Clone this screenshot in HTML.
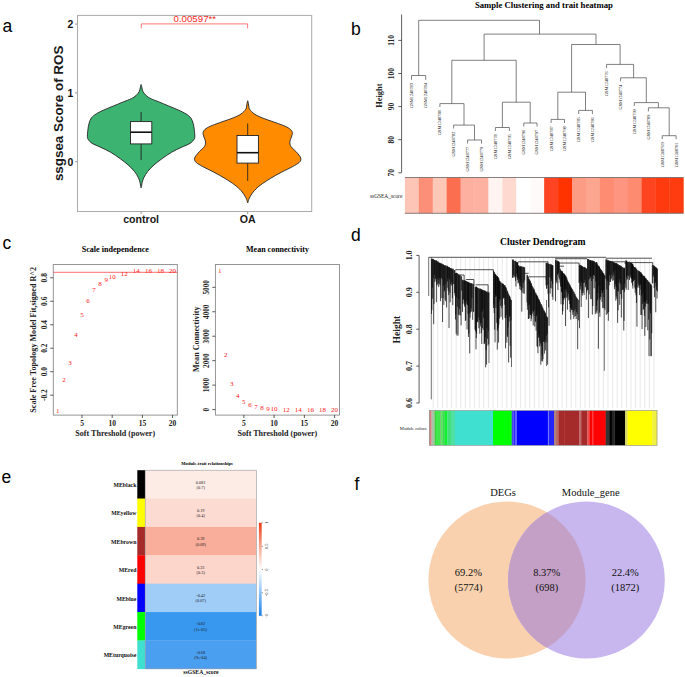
<!DOCTYPE html>
<html><head><meta charset="utf-8"><style>
html,body{margin:0;padding:0;background:#fff;width:685px;height:677px;overflow:hidden;}
svg{display:block;}
</style></head><body>
<svg width="685" height="677" viewBox="0 0 685 677">
<rect width="685" height="677" fill="#fff"/>
<text x="2.5" y="31.7" font-family='"Liberation Sans", sans-serif' font-size="17.5" font-weight="normal" text-anchor="start" fill="#000">a</text>
<text x="351" y="35" font-family='"Liberation Sans", sans-serif' font-size="17.5" font-weight="normal" text-anchor="start" fill="#000">b</text>
<text x="2.5" y="248.8" font-family='"Liberation Sans", sans-serif' font-size="17.5" font-weight="normal" text-anchor="start" fill="#000">c</text>
<text x="351" y="240.8" font-family='"Liberation Sans", sans-serif' font-size="17.5" font-weight="normal" text-anchor="start" fill="#000">d</text>
<text x="1.5" y="483.3" font-family='"Liberation Sans", sans-serif' font-size="17.5" font-weight="normal" text-anchor="start" fill="#000">e</text>
<text x="354.5" y="489.6" font-family='"Liberation Sans", sans-serif' font-size="17.5" font-weight="normal" text-anchor="start" fill="#000">f</text>
<rect x="77.5" y="15.4" width="234.2" height="196.1" fill="none" stroke="#ababab" stroke-width="1"/>
<line x1="75" y1="161.7" x2="77.5" y2="161.7" stroke="#999" stroke-width="1"/>
<text x="73.4" y="165.5" font-family='"Liberation Sans", sans-serif' font-size="10.4" font-weight="bold" text-anchor="end" fill="#111">0</text>
<line x1="75" y1="92.89999999999999" x2="77.5" y2="92.89999999999999" stroke="#999" stroke-width="1"/>
<text x="73.4" y="96.69999999999999" font-family='"Liberation Sans", sans-serif' font-size="10.4" font-weight="bold" text-anchor="end" fill="#111">1</text>
<line x1="75" y1="24.099999999999994" x2="77.5" y2="24.099999999999994" stroke="#999" stroke-width="1"/>
<text x="73.4" y="27.899999999999995" font-family='"Liberation Sans", sans-serif' font-size="10.4" font-weight="bold" text-anchor="end" fill="#111">2</text>
<line x1="141.1" y1="211.5" x2="141.1" y2="214" stroke="#999" stroke-width="1"/>
<text x="141.1" y="223.2" font-family='"Liberation Sans", sans-serif' font-size="10.6" font-weight="bold" text-anchor="middle" fill="#1a1a1a">control</text>
<line x1="247.7" y1="211.5" x2="247.7" y2="214" stroke="#999" stroke-width="1"/>
<text x="247.7" y="223.2" font-family='"Liberation Sans", sans-serif' font-size="10.6" font-weight="bold" text-anchor="middle" fill="#1a1a1a">OA</text>
<text x="63.2" y="113.4" font-family='"Liberation Sans", sans-serif' font-size="13.4" font-weight="bold" text-anchor="middle" fill="#1a1a1a" transform="rotate(-90 63.2 113.4)">ssgsea Score of ROS</text>
<path d="M141.30,84.90 C141.48,85.42 141.72,86.88 142.00,88.00 C142.28,89.12 142.30,90.33 143.00,91.60 C143.70,92.87 144.88,94.42 146.20,95.60 C147.52,96.78 148.78,97.65 150.90,98.70 C153.02,99.75 155.97,100.70 158.90,101.90 C161.83,103.10 165.30,104.57 168.50,105.90 C171.70,107.23 175.18,108.57 178.10,109.90 C181.02,111.23 183.88,112.57 186.00,113.90 C188.12,115.23 189.60,116.30 190.80,117.90 C192.00,119.50 192.62,121.52 193.20,123.50 C193.78,125.48 194.03,127.68 194.30,129.80 C194.57,131.92 194.85,134.60 194.80,136.20 C194.75,137.80 194.80,138.20 194.00,139.40 C193.20,140.60 192.13,142.07 190.00,143.40 C187.87,144.73 184.25,145.93 181.20,147.40 C178.15,148.87 174.88,150.33 171.70,152.20 C168.52,154.07 165.03,156.48 162.10,158.60 C159.17,160.72 156.48,162.78 154.10,164.90 C151.72,167.02 149.52,169.17 147.80,171.30 C146.08,173.43 144.73,175.83 143.80,177.70 C142.87,179.57 142.62,180.90 142.20,182.50 C141.78,184.10 141.52,186.50 141.30,187.30 C141.08,188.10 141.12,188.10 140.90,187.30 C140.68,186.50 140.42,184.10 140.00,182.50 C139.58,180.90 139.33,179.57 138.40,177.70 C137.47,175.83 136.12,173.43 134.40,171.30 C132.68,169.17 130.48,167.02 128.10,164.90 C125.72,162.78 123.03,160.72 120.10,158.60 C117.17,156.48 113.68,154.07 110.50,152.20 C107.32,150.33 104.05,148.87 101.00,147.40 C97.95,145.93 94.33,144.73 92.20,143.40 C90.07,142.07 89.00,140.60 88.20,139.40 C87.40,138.20 87.45,137.80 87.40,136.20 C87.35,134.60 87.63,131.92 87.90,129.80 C88.17,127.68 88.42,125.48 89.00,123.50 C89.58,121.52 90.20,119.50 91.40,117.90 C92.60,116.30 94.08,115.23 96.20,113.90 C98.32,112.57 101.18,111.23 104.10,109.90 C107.02,108.57 110.50,107.23 113.70,105.90 C116.90,104.57 120.37,103.10 123.30,101.90 C126.23,100.70 129.18,99.75 131.30,98.70 C133.42,97.65 134.68,96.78 136.00,95.60 C137.32,94.42 138.50,92.87 139.20,91.60 C139.90,90.33 139.92,89.12 140.20,88.00 C140.48,86.88 140.72,85.42 140.90,84.90 C141.08,84.38 141.12,84.38 141.30,84.90Z" fill="#3cb371" stroke="#222" stroke-width="0.9"/>
<path d="M247.90,101.20 C248.08,101.83 248.32,103.67 248.60,105.00 C248.88,106.33 248.63,107.70 249.60,109.20 C250.57,110.70 252.28,112.55 254.40,114.00 C256.52,115.45 259.12,116.58 262.30,117.90 C265.48,119.22 270.03,120.65 273.50,121.90 C276.97,123.15 280.45,124.28 283.10,125.40 C285.75,126.52 287.87,127.45 289.40,128.60 C290.93,129.75 291.97,130.88 292.30,132.30 C292.63,133.72 291.82,135.50 291.40,137.10 C290.98,138.70 289.87,140.32 289.80,141.90 C289.73,143.48 290.00,145.02 291.00,146.60 C292.00,148.18 294.33,149.80 295.80,151.40 C297.27,153.00 298.95,154.87 299.80,156.20 C300.65,157.53 301.03,158.33 300.90,159.40 C300.77,160.47 300.38,161.40 299.00,162.60 C297.62,163.80 295.52,165.00 292.60,166.60 C289.68,168.20 285.22,170.22 281.50,172.20 C277.78,174.18 273.77,176.38 270.30,178.50 C266.83,180.62 263.35,182.90 260.70,184.90 C258.05,186.90 256.12,188.63 254.40,190.50 C252.68,192.37 251.35,194.60 250.40,196.10 C249.45,197.60 249.12,198.43 248.70,199.50 C248.28,200.57 248.10,202.00 247.90,202.50 C247.70,203.00 247.70,203.00 247.50,202.50 C247.30,202.00 247.12,200.57 246.70,199.50 C246.28,198.43 245.95,197.60 245.00,196.10 C244.05,194.60 242.72,192.37 241.00,190.50 C239.28,188.63 237.35,186.90 234.70,184.90 C232.05,182.90 228.57,180.62 225.10,178.50 C221.63,176.38 217.62,174.18 213.90,172.20 C210.18,170.22 205.72,168.20 202.80,166.60 C199.88,165.00 197.78,163.80 196.40,162.60 C195.02,161.40 194.63,160.47 194.50,159.40 C194.37,158.33 194.75,157.53 195.60,156.20 C196.45,154.87 198.13,153.00 199.60,151.40 C201.07,149.80 203.40,148.18 204.40,146.60 C205.40,145.02 205.67,143.48 205.60,141.90 C205.53,140.32 204.42,138.70 204.00,137.10 C203.58,135.50 202.77,133.72 203.10,132.30 C203.43,130.88 204.47,129.75 206.00,128.60 C207.53,127.45 209.65,126.52 212.30,125.40 C214.95,124.28 218.43,123.15 221.90,121.90 C225.37,120.65 229.92,119.22 233.10,117.90 C236.28,116.58 238.88,115.45 241.00,114.00 C243.12,112.55 244.83,110.70 245.80,109.20 C246.77,107.70 246.52,106.33 246.80,105.00 C247.08,103.67 247.32,101.83 247.50,101.20 C247.68,100.57 247.72,100.57 247.90,101.20Z" fill="#ff8c00" stroke="#222" stroke-width="0.9"/>
<line x1="141.1" y1="112" x2="141.1" y2="121.6" stroke="#222" stroke-width="0.9"/>
<line x1="141.1" y1="143.9" x2="141.1" y2="160.1" stroke="#222" stroke-width="0.9"/>
<rect x="130.5" y="121.6" width="21.30000000000001" height="22.30000000000001" fill="#fff" stroke="#222" stroke-width="0.9"/>
<line x1="130.5" y1="132.2" x2="151.8" y2="132.2" stroke="#111" stroke-width="1.6"/>
<line x1="247.7" y1="123.5" x2="247.7" y2="135.5" stroke="#222" stroke-width="0.9"/>
<line x1="247.7" y1="163.1" x2="247.7" y2="180.9" stroke="#222" stroke-width="0.9"/>
<rect x="237" y="135.5" width="21.399999999999977" height="27.599999999999994" fill="#fff" stroke="#222" stroke-width="0.9"/>
<line x1="237" y1="152.7" x2="258.4" y2="152.7" stroke="#111" stroke-width="1.6"/>
<path d="M141.3,28.4 V23.9 H247.6 V28.4" fill="none" stroke="#ff6b6b" stroke-width="0.9"/>
<text x="194.8" y="22" font-family='"Liberation Sans", sans-serif' font-size="9.7" font-weight="normal" text-anchor="middle" fill="#f52828">0.00597**</text>
<text x="543.9" y="8.3" font-family='"Liberation Serif", serif' font-size="8.7" font-weight="bold" text-anchor="middle" fill="#000">Sample Clustering and trait heatmap</text>
<line x1="401.6" y1="14.5" x2="401.6" y2="172.6" stroke="#333" stroke-width="0.8"/>
<line x1="398.3" y1="172.8" x2="401.6" y2="172.8" stroke="#333" stroke-width="0.8"/>
<text x="393.8" y="172.8" font-family='"Liberation Serif", serif' font-size="7.5" font-weight="bold" text-anchor="middle" fill="#222" transform="rotate(-90 393.8 172.8)">70</text>
<line x1="398.3" y1="139.7" x2="401.6" y2="139.7" stroke="#333" stroke-width="0.8"/>
<text x="393.8" y="139.7" font-family='"Liberation Serif", serif' font-size="7.5" font-weight="bold" text-anchor="middle" fill="#222" transform="rotate(-90 393.8 139.7)">80</text>
<line x1="398.3" y1="106.6" x2="401.6" y2="106.6" stroke="#333" stroke-width="0.8"/>
<text x="393.8" y="106.6" font-family='"Liberation Serif", serif' font-size="7.5" font-weight="bold" text-anchor="middle" fill="#222" transform="rotate(-90 393.8 106.6)">90</text>
<line x1="398.3" y1="73.5" x2="401.6" y2="73.5" stroke="#333" stroke-width="0.8"/>
<text x="393.8" y="73.5" font-family='"Liberation Serif", serif' font-size="7.5" font-weight="bold" text-anchor="middle" fill="#222" transform="rotate(-90 393.8 73.5)">100</text>
<line x1="398.3" y1="40.4" x2="401.6" y2="40.4" stroke="#333" stroke-width="0.8"/>
<text x="393.8" y="40.4" font-family='"Liberation Serif", serif' font-size="7.5" font-weight="bold" text-anchor="middle" fill="#222" transform="rotate(-90 393.8 40.4)">110</text>
<text x="382" y="95.6" font-family='"Liberation Serif", serif' font-size="8.4" font-weight="bold" text-anchor="middle" fill="#222" transform="rotate(-90 382 95.6)">Height</text>
<path d="M411.5,79.8 V75.5 H425.7 V79.8 M467.6,143.5 V140 H481.5 V143.5 M453.6,128.5 V125.1 H474.5 V140 M439.9,107 V103.6 H464 V125.1 M495.4,131 V127.5 H509.4 V131 M523.8,126.5 V123 H537 V126.5 M502.4,127.5 V102.2 H530.2 V123 M451.8,103.6 V60.3 H516.2 V102.2 M551.1,123 V119.4 H564.5 V123 M578.7,114 V110.4 H592.4 V114 M557.8,119.4 V92.2 H585.5 V110.4 M662.2,139.2 V135.7 H676.1 V139.2 M648.4,111.4 V107.8 H669.2 V135.7 M634.3,106 V102.6 H658.4 V107.8 M620.6,81.4 V77.8 H646.3 V102.6 M606.6,68 V64.4 H633.6 V77.8 M571.6,92.2 V44.5 H620.1 V64.4 M484.1,60.3 V34.1 H596 V44.5 M418.7,75.5 V20.3 H539.5 V34.1" fill="none" stroke="#555" stroke-width="0.75"/>
<text x="413.0" y="83.0" font-family='"Liberation Serif", serif' font-size="4.4" font-weight="normal" text-anchor="end" fill="#111" transform="rotate(-90 413.0 83.0)">GSM1248783</text>
<text x="427.2" y="83.0" font-family='"Liberation Serif", serif' font-size="4.4" font-weight="normal" text-anchor="end" fill="#111" transform="rotate(-90 427.2 83.0)">GSM1248784</text>
<text x="441.4" y="110.2" font-family='"Liberation Serif", serif' font-size="4.4" font-weight="normal" text-anchor="end" fill="#111" transform="rotate(-90 441.4 110.2)">GSM1248788</text>
<text x="455.1" y="131.7" font-family='"Liberation Serif", serif' font-size="4.4" font-weight="normal" text-anchor="end" fill="#111" transform="rotate(-90 455.1 131.7)">GSM1248782</text>
<text x="469.1" y="146.7" font-family='"Liberation Serif", serif' font-size="4.4" font-weight="normal" text-anchor="end" fill="#111" transform="rotate(-90 469.1 146.7)">GSM1248777</text>
<text x="483.0" y="146.7" font-family='"Liberation Serif", serif' font-size="4.4" font-weight="normal" text-anchor="end" fill="#111" transform="rotate(-90 483.0 146.7)">GSM1248779</text>
<text x="496.9" y="134.2" font-family='"Liberation Serif", serif' font-size="4.4" font-weight="normal" text-anchor="end" fill="#111" transform="rotate(-90 496.9 134.2)">GSM1248778</text>
<text x="510.9" y="134.2" font-family='"Liberation Serif", serif' font-size="4.4" font-weight="normal" text-anchor="end" fill="#111" transform="rotate(-90 510.9 134.2)">GSM1248795</text>
<text x="525.3" y="129.7" font-family='"Liberation Serif", serif' font-size="4.4" font-weight="normal" text-anchor="end" fill="#111" transform="rotate(-90 525.3 129.7)">GSM1248796</text>
<text x="538.5" y="129.7" font-family='"Liberation Serif", serif' font-size="4.4" font-weight="normal" text-anchor="end" fill="#111" transform="rotate(-90 538.5 129.7)">GSM1248797</text>
<text x="552.6" y="126.2" font-family='"Liberation Serif", serif' font-size="4.4" font-weight="normal" text-anchor="end" fill="#111" transform="rotate(-90 552.6 126.2)">GSM1248787</text>
<text x="566.0" y="126.2" font-family='"Liberation Serif", serif' font-size="4.4" font-weight="normal" text-anchor="end" fill="#111" transform="rotate(-90 566.0 126.2)">GSM1248798</text>
<text x="580.2" y="117.2" font-family='"Liberation Serif", serif' font-size="4.4" font-weight="normal" text-anchor="end" fill="#111" transform="rotate(-90 580.2 117.2)">GSM1248785</text>
<text x="593.9" y="117.2" font-family='"Liberation Serif", serif' font-size="4.4" font-weight="normal" text-anchor="end" fill="#111" transform="rotate(-90 593.9 117.2)">GSM1248786</text>
<text x="608.1" y="71.2" font-family='"Liberation Serif", serif' font-size="4.4" font-weight="normal" text-anchor="end" fill="#111" transform="rotate(-90 608.1 71.2)">GSM1248776</text>
<text x="622.1" y="84.60000000000001" font-family='"Liberation Serif", serif' font-size="4.4" font-weight="normal" text-anchor="end" fill="#111" transform="rotate(-90 622.1 84.60000000000001)">GSM1248774</text>
<text x="635.8" y="109.2" font-family='"Liberation Serif", serif' font-size="4.4" font-weight="normal" text-anchor="end" fill="#111" transform="rotate(-90 635.8 109.2)">GSM1248799</text>
<text x="649.9" y="114.60000000000001" font-family='"Liberation Serif", serif' font-size="4.4" font-weight="normal" text-anchor="end" fill="#111" transform="rotate(-90 649.9 114.60000000000001)">GSM1248789</text>
<text x="663.7" y="142.39999999999998" font-family='"Liberation Serif", serif' font-size="4.4" font-weight="normal" text-anchor="end" fill="#111" transform="rotate(-90 663.7 142.39999999999998)">GSM1248769</text>
<text x="677.6" y="142.39999999999998" font-family='"Liberation Serif", serif' font-size="4.4" font-weight="normal" text-anchor="end" fill="#111" transform="rotate(-90 677.6 142.39999999999998)">GSM1248781</text>
<rect x="404.9" y="177.3" width="14.23" height="36" fill="#fdc5b5" stroke="none" stroke-width="1"/>
<rect x="418.82" y="177.3" width="14.23" height="36" fill="#fc8f78" stroke="none" stroke-width="1"/>
<rect x="432.75" y="177.3" width="14.23" height="36" fill="#fdc8b8" stroke="none" stroke-width="1"/>
<rect x="446.67" y="177.3" width="14.23" height="36" fill="#fb6f50" stroke="none" stroke-width="1"/>
<rect x="460.6" y="177.3" width="14.23" height="36" fill="#fdb0a0" stroke="none" stroke-width="1"/>
<rect x="474.52" y="177.3" width="14.23" height="36" fill="#fdb2a1" stroke="none" stroke-width="1"/>
<rect x="488.45" y="177.3" width="14.23" height="36" fill="#fff4f2" stroke="none" stroke-width="1"/>
<rect x="502.38" y="177.3" width="14.23" height="36" fill="#fed9cf" stroke="none" stroke-width="1"/>
<rect x="516.3" y="177.3" width="14.23" height="36" fill="#ffffff" stroke="none" stroke-width="1"/>
<rect x="530.23" y="177.3" width="14.23" height="36" fill="#fffafa" stroke="none" stroke-width="1"/>
<rect x="544.15" y="177.3" width="14.23" height="36" fill="#fe4422" stroke="none" stroke-width="1"/>
<rect x="558.08" y="177.3" width="14.23" height="36" fill="#ff3300" stroke="none" stroke-width="1"/>
<rect x="572.0" y="177.3" width="14.23" height="36" fill="#fd9c85" stroke="none" stroke-width="1"/>
<rect x="585.92" y="177.3" width="14.23" height="36" fill="#fda68f" stroke="none" stroke-width="1"/>
<rect x="599.85" y="177.3" width="14.23" height="36" fill="#fd8c72" stroke="none" stroke-width="1"/>
<rect x="613.77" y="177.3" width="14.23" height="36" fill="#fd9580" stroke="none" stroke-width="1"/>
<rect x="627.7" y="177.3" width="14.23" height="36" fill="#fd8b70" stroke="none" stroke-width="1"/>
<rect x="641.62" y="177.3" width="14.23" height="36" fill="#ff4420" stroke="none" stroke-width="1"/>
<rect x="655.55" y="177.3" width="14.23" height="36" fill="#ff3a0e" stroke="none" stroke-width="1"/>
<rect x="669.47" y="177.3" width="14.23" height="36" fill="#ff3c10" stroke="none" stroke-width="1"/>
<line x1="404.9" y1="177.5" x2="683.4" y2="177.5" stroke="#7a7070" stroke-width="0.9"/>
<line x1="404.9" y1="213.3" x2="683.4" y2="213.3" stroke="#7a7070" stroke-width="0.9"/>
<text x="402.3" y="197.9" font-family='"Liberation Serif", serif' font-size="5.4" font-weight="normal" text-anchor="end" fill="#222">ssGSEA_score</text>
<text x="115.3" y="252.3" font-family='"Liberation Serif", serif' font-size="8.1" font-weight="bold" text-anchor="middle" fill="#000">Scale independence</text>
<text x="277.5" y="252.3" font-family='"Liberation Serif", serif' font-size="8.0" font-weight="bold" text-anchor="middle" fill="#000">Mean connectivity</text>
<rect x="53.3" y="264.5" width="124.00000000000001" height="150.6" fill="none" stroke="#8a8a8a" stroke-width="0.9"/>
<rect x="215.4" y="264.5" width="124.1" height="150.6" fill="none" stroke="#8a8a8a" stroke-width="0.9"/>
<line x1="50.2" y1="395.18" x2="53.3" y2="395.18" stroke="#333" stroke-width="0.8"/>
<text x="47" y="395.18" font-family='"Liberation Serif", serif' font-size="7.4" font-weight="bold" text-anchor="middle" fill="#222" transform="rotate(-90 47 395.18)">-0.2</text>
<line x1="50.2" y1="371.7" x2="53.3" y2="371.7" stroke="#333" stroke-width="0.8"/>
<text x="47" y="371.7" font-family='"Liberation Serif", serif' font-size="7.4" font-weight="bold" text-anchor="middle" fill="#222" transform="rotate(-90 47 371.7)">0.0</text>
<line x1="50.2" y1="348.21999999999997" x2="53.3" y2="348.21999999999997" stroke="#333" stroke-width="0.8"/>
<text x="47" y="348.21999999999997" font-family='"Liberation Serif", serif' font-size="7.4" font-weight="bold" text-anchor="middle" fill="#222" transform="rotate(-90 47 348.21999999999997)">0.2</text>
<line x1="50.2" y1="324.74" x2="53.3" y2="324.74" stroke="#333" stroke-width="0.8"/>
<text x="47" y="324.74" font-family='"Liberation Serif", serif' font-size="7.4" font-weight="bold" text-anchor="middle" fill="#222" transform="rotate(-90 47 324.74)">0.4</text>
<line x1="50.2" y1="301.26" x2="53.3" y2="301.26" stroke="#333" stroke-width="0.8"/>
<text x="47" y="301.26" font-family='"Liberation Serif", serif' font-size="7.4" font-weight="bold" text-anchor="middle" fill="#222" transform="rotate(-90 47 301.26)">0.6</text>
<line x1="50.2" y1="277.78" x2="53.3" y2="277.78" stroke="#333" stroke-width="0.8"/>
<text x="47" y="277.78" font-family='"Liberation Serif", serif' font-size="7.4" font-weight="bold" text-anchor="middle" fill="#222" transform="rotate(-90 47 277.78)">0.8</text>
<line x1="212.3" y1="409.6" x2="215.4" y2="409.6" stroke="#333" stroke-width="0.8"/>
<text x="209.2" y="409.6" font-family='"Liberation Serif", serif' font-size="7.2" font-weight="bold" text-anchor="middle" fill="#222" transform="rotate(-90 209.2 409.6)">0</text>
<line x1="212.3" y1="385.14000000000004" x2="215.4" y2="385.14000000000004" stroke="#333" stroke-width="0.8"/>
<text x="209.2" y="385.14000000000004" font-family='"Liberation Serif", serif' font-size="7.2" font-weight="bold" text-anchor="middle" fill="#222" transform="rotate(-90 209.2 385.14000000000004)">1000</text>
<line x1="212.3" y1="360.68" x2="215.4" y2="360.68" stroke="#333" stroke-width="0.8"/>
<text x="209.2" y="360.68" font-family='"Liberation Serif", serif' font-size="7.2" font-weight="bold" text-anchor="middle" fill="#222" transform="rotate(-90 209.2 360.68)">2000</text>
<line x1="212.3" y1="336.22" x2="215.4" y2="336.22" stroke="#333" stroke-width="0.8"/>
<text x="209.2" y="336.22" font-family='"Liberation Serif", serif' font-size="7.2" font-weight="bold" text-anchor="middle" fill="#222" transform="rotate(-90 209.2 336.22)">3000</text>
<line x1="212.3" y1="311.76" x2="215.4" y2="311.76" stroke="#333" stroke-width="0.8"/>
<text x="209.2" y="311.76" font-family='"Liberation Serif", serif' font-size="7.2" font-weight="bold" text-anchor="middle" fill="#222" transform="rotate(-90 209.2 311.76)">4000</text>
<line x1="212.3" y1="287.3" x2="215.4" y2="287.3" stroke="#333" stroke-width="0.8"/>
<text x="209.2" y="287.3" font-family='"Liberation Serif", serif' font-size="7.2" font-weight="bold" text-anchor="middle" fill="#222" transform="rotate(-90 209.2 287.3)">5000</text>
<line x1="82.0" y1="414.9" x2="82.0" y2="418" stroke="#333" stroke-width="0.8"/>
<text x="82.0" y="426.2" font-family='"Liberation Serif", serif' font-size="7.5" font-weight="bold" text-anchor="middle" fill="#222">5</text>
<line x1="243.85" y1="414.9" x2="243.85" y2="418" stroke="#333" stroke-width="0.8"/>
<text x="243.85" y="426.2" font-family='"Liberation Serif", serif' font-size="7.5" font-weight="bold" text-anchor="middle" fill="#222">5</text>
<line x1="112.19999999999999" y1="414.9" x2="112.19999999999999" y2="418" stroke="#333" stroke-width="0.8"/>
<text x="112.19999999999999" y="426.2" font-family='"Liberation Serif", serif' font-size="7.5" font-weight="bold" text-anchor="middle" fill="#222">10</text>
<line x1="274.1" y1="414.9" x2="274.1" y2="418" stroke="#333" stroke-width="0.8"/>
<text x="274.1" y="426.2" font-family='"Liberation Serif", serif' font-size="7.5" font-weight="bold" text-anchor="middle" fill="#222">10</text>
<line x1="142.39999999999998" y1="414.9" x2="142.39999999999998" y2="418" stroke="#333" stroke-width="0.8"/>
<text x="142.39999999999998" y="426.2" font-family='"Liberation Serif", serif' font-size="7.5" font-weight="bold" text-anchor="middle" fill="#222">15</text>
<line x1="304.35" y1="414.9" x2="304.35" y2="418" stroke="#333" stroke-width="0.8"/>
<text x="304.35" y="426.2" font-family='"Liberation Serif", serif' font-size="7.5" font-weight="bold" text-anchor="middle" fill="#222">15</text>
<line x1="172.6" y1="414.9" x2="172.6" y2="418" stroke="#333" stroke-width="0.8"/>
<text x="172.6" y="426.2" font-family='"Liberation Serif", serif' font-size="7.5" font-weight="bold" text-anchor="middle" fill="#222">20</text>
<line x1="334.6" y1="414.9" x2="334.6" y2="418" stroke="#333" stroke-width="0.8"/>
<text x="334.6" y="426.2" font-family='"Liberation Serif", serif' font-size="7.5" font-weight="bold" text-anchor="middle" fill="#222">20</text>
<text x="115.2" y="436.3" font-family='"Liberation Serif", serif' font-size="8.05" font-weight="bold" text-anchor="middle" fill="#222">Soft Threshold (power)</text>
<text x="277.4" y="436.3" font-family='"Liberation Serif", serif' font-size="8.05" font-weight="bold" text-anchor="middle" fill="#222">Soft Threshold (power)</text>
<text x="36.3" y="339.8" font-family='"Liberation Serif", serif' font-size="8.1" font-weight="bold" text-anchor="middle" fill="#222" transform="rotate(-90 36.3 339.8)">Scale Free Topology Model Fit,signed R^2</text>
<text x="199" y="339.3" font-family='"Liberation Serif", serif' font-size="8.05" font-weight="bold" text-anchor="middle" fill="#222" transform="rotate(-90 199 339.3)">Mean Connectivity</text>
<line x1="53.5" y1="272.3" x2="177.3" y2="272.3" stroke="#ff4a4a" stroke-width="0.8"/>
<text x="57.84" y="412.5" font-family='"Liberation Serif", serif' font-size="7.0" font-weight="normal" text-anchor="middle" fill="#ff2020">1</text>
<text x="219.65" y="272.59999999999997" font-family='"Liberation Serif", serif' font-size="7.0" font-weight="normal" text-anchor="middle" fill="#ff2020">1</text>
<text x="63.88" y="381.79999999999995" font-family='"Liberation Serif", serif' font-size="7.0" font-weight="normal" text-anchor="middle" fill="#ff2020">2</text>
<text x="225.7" y="356.79999999999995" font-family='"Liberation Serif", serif' font-size="7.0" font-weight="normal" text-anchor="middle" fill="#ff2020">2</text>
<text x="69.92" y="364.7" font-family='"Liberation Serif", serif' font-size="7.0" font-weight="normal" text-anchor="middle" fill="#ff2020">3</text>
<text x="231.75" y="385.7" font-family='"Liberation Serif", serif' font-size="7.0" font-weight="normal" text-anchor="middle" fill="#ff2020">3</text>
<text x="75.96" y="337.0" font-family='"Liberation Serif", serif' font-size="7.0" font-weight="normal" text-anchor="middle" fill="#ff2020">4</text>
<text x="237.8" y="398.09999999999997" font-family='"Liberation Serif", serif' font-size="7.0" font-weight="normal" text-anchor="middle" fill="#ff2020">4</text>
<text x="82.0" y="317.0" font-family='"Liberation Serif", serif' font-size="7.0" font-weight="normal" text-anchor="middle" fill="#ff2020">5</text>
<text x="243.85" y="403.9" font-family='"Liberation Serif", serif' font-size="7.0" font-weight="normal" text-anchor="middle" fill="#ff2020">5</text>
<text x="88.04" y="302.79999999999995" font-family='"Liberation Serif", serif' font-size="7.0" font-weight="normal" text-anchor="middle" fill="#ff2020">6</text>
<text x="249.9" y="407.29999999999995" font-family='"Liberation Serif", serif' font-size="7.0" font-weight="normal" text-anchor="middle" fill="#ff2020">6</text>
<text x="94.08" y="292.0" font-family='"Liberation Serif", serif' font-size="7.0" font-weight="normal" text-anchor="middle" fill="#ff2020">7</text>
<text x="255.95" y="408.9" font-family='"Liberation Serif", serif' font-size="7.0" font-weight="normal" text-anchor="middle" fill="#ff2020">7</text>
<text x="100.12" y="286.29999999999995" font-family='"Liberation Serif", serif' font-size="7.0" font-weight="normal" text-anchor="middle" fill="#ff2020">8</text>
<text x="262.0" y="409.9" font-family='"Liberation Serif", serif' font-size="7.0" font-weight="normal" text-anchor="middle" fill="#ff2020">8</text>
<text x="106.16" y="281.79999999999995" font-family='"Liberation Serif", serif' font-size="7.0" font-weight="normal" text-anchor="middle" fill="#ff2020">9</text>
<text x="268.05" y="410.7" font-family='"Liberation Serif", serif' font-size="7.0" font-weight="normal" text-anchor="middle" fill="#ff2020">9</text>
<text x="112.2" y="278.59999999999997" font-family='"Liberation Serif", serif' font-size="7.0" font-weight="normal" text-anchor="middle" fill="#ff2020">10</text>
<text x="274.1" y="411.2" font-family='"Liberation Serif", serif' font-size="7.0" font-weight="normal" text-anchor="middle" fill="#ff2020">10</text>
<text x="124.28" y="275.79999999999995" font-family='"Liberation Serif", serif' font-size="7.0" font-weight="normal" text-anchor="middle" fill="#ff2020">12</text>
<text x="286.2" y="411.7" font-family='"Liberation Serif", serif' font-size="7.0" font-weight="normal" text-anchor="middle" fill="#ff2020">12</text>
<text x="136.36" y="273.4" font-family='"Liberation Serif", serif' font-size="7.0" font-weight="normal" text-anchor="middle" fill="#ff2020">14</text>
<text x="298.3" y="411.79999999999995" font-family='"Liberation Serif", serif' font-size="7.0" font-weight="normal" text-anchor="middle" fill="#ff2020">14</text>
<text x="148.44" y="272.59999999999997" font-family='"Liberation Serif", serif' font-size="7.0" font-weight="normal" text-anchor="middle" fill="#ff2020">16</text>
<text x="310.4" y="411.9" font-family='"Liberation Serif", serif' font-size="7.0" font-weight="normal" text-anchor="middle" fill="#ff2020">16</text>
<text x="160.52" y="272.59999999999997" font-family='"Liberation Serif", serif' font-size="7.0" font-weight="normal" text-anchor="middle" fill="#ff2020">18</text>
<text x="322.5" y="412.0" font-family='"Liberation Serif", serif' font-size="7.0" font-weight="normal" text-anchor="middle" fill="#ff2020">18</text>
<text x="172.6" y="272.59999999999997" font-family='"Liberation Serif", serif' font-size="7.0" font-weight="normal" text-anchor="middle" fill="#ff2020">20</text>
<text x="334.6" y="412.0" font-family='"Liberation Serif", serif' font-size="7.0" font-weight="normal" text-anchor="middle" fill="#ff2020">20</text>
<text x="542.8" y="245.2" font-family='"Liberation Serif", serif' font-size="9.65" font-weight="bold" text-anchor="middle" fill="#000">Cluster Dendrogram</text>
<line x1="419.1" y1="255.4" x2="419.1" y2="403.0" stroke="#333" stroke-width="0.8"/>
<line x1="416.3" y1="403.0" x2="419.1" y2="403.0" stroke="#333" stroke-width="0.8"/>
<text x="412.4" y="403.0" font-family='"Liberation Serif", serif' font-size="7.95" font-weight="bold" text-anchor="middle" fill="#222" transform="rotate(-90 412.4 403.0)">0.6</text>
<line x1="416.3" y1="366.1" x2="419.1" y2="366.1" stroke="#333" stroke-width="0.8"/>
<text x="412.4" y="366.1" font-family='"Liberation Serif", serif' font-size="7.95" font-weight="bold" text-anchor="middle" fill="#222" transform="rotate(-90 412.4 366.1)">0.7</text>
<line x1="416.3" y1="329.2" x2="419.1" y2="329.2" stroke="#333" stroke-width="0.8"/>
<text x="412.4" y="329.2" font-family='"Liberation Serif", serif' font-size="7.95" font-weight="bold" text-anchor="middle" fill="#222" transform="rotate(-90 412.4 329.2)">0.8</text>
<line x1="416.3" y1="292.3" x2="419.1" y2="292.3" stroke="#333" stroke-width="0.8"/>
<text x="412.4" y="292.3" font-family='"Liberation Serif", serif' font-size="7.95" font-weight="bold" text-anchor="middle" fill="#222" transform="rotate(-90 412.4 292.3)">0.9</text>
<line x1="416.3" y1="255.4" x2="419.1" y2="255.4" stroke="#333" stroke-width="0.8"/>
<text x="412.4" y="255.4" font-family='"Liberation Serif", serif' font-size="7.95" font-weight="bold" text-anchor="middle" fill="#222" transform="rotate(-90 412.4 255.4)">1.0</text>
<text x="399.8" y="329.6" font-family='"Liberation Serif", serif' font-size="9.6" font-weight="bold" text-anchor="middle" fill="#222" transform="rotate(-90 399.8 329.6)">Height</text>
<path d="M433.2,258V408.2M437.8,258V408.2M442.4,258V408.2M447.0,258V408.2M451.6,258V408.2M456.2,258V408.2M460.8,258V408.2M465.4,258V408.2M470.0,258V408.2M474.6,258V408.2M479.2,258V408.2M483.8,258V408.2M488.4,258V408.2M493.0,258V408.2M497.6,258V408.2M502.2,258V408.2M506.8,258V408.2M511.4,258V408.2M516.0,258V408.2M520.6,258V408.2M525.2,258V408.2M529.8,258V408.2M534.4,258V408.2M539.0,258V408.2M543.6,258V408.2M548.2,258V408.2M552.8,258V408.2M557.4,258V408.2M562.0,258V408.2M566.6,258V408.2M571.2,258V408.2M575.8,258V408.2M580.4,258V408.2M585.0,258V408.2M589.6,258V408.2M594.2,258V408.2M598.8,258V408.2M603.4,258V408.2M608.0,258V408.2M612.6,258V408.2M617.2,258V408.2M621.8,258V408.2M626.4,258V408.2M631.0,258V408.2M635.6,258V408.2M640.2,258V408.2M644.8,258V408.2M649.4,258V408.2M654.0,258V408.2" stroke="#c4c4c4" stroke-width="0.4" fill="none"/>
<path d="M431.50,259.1V314.0M431.92,259.3V310.1M432.33,258.7V287.6M432.69,258.9V298.7M433.19,259.0V277.9M433.70,259.3V324.2M434.06,260.4V303.9M434.43,259.9V274.8M434.81,260.3V282.1M435.18,260.8V279.2M435.66,260.1V278.4M436.17,260.3V281.0M436.41,260.5V302.2M436.83,261.7V285.5M437.33,261.3V284.4M437.68,261.6V278.5M438.16,261.4V283.3M438.61,262.3V287.1M438.93,262.4V280.1M439.37,263.0V277.9M439.71,262.9V283.9M440.03,262.7V285.5M440.45,263.6V301.2M440.87,263.5V278.3M441.21,263.2V298.2M441.71,263.7V277.9M442.10,263.9V279.4M442.57,264.4V322.0M443.11,264.1V297.9M443.36,264.6V285.5M443.85,265.0V304.9M444.32,265.4V291.6M444.66,265.4V290.3M445.14,265.6V299.7M445.61,265.4V301.3M446.04,265.3V283.7M446.59,266.6V307.5M447.13,266.2V287.8M447.53,265.8V281.4M447.86,267.0V277.9M448.18,266.8V290.7M448.69,266.9V295.1M449.02,267.3V328.0M449.48,267.2V279.5M449.92,267.8V292.8M450.21,268.0V302.3M450.66,268.3V284.0M451.19,268.0V285.3M451.66,269.0V281.8M452.06,268.6V285.5M452.36,268.8V298.1M452.79,269.6V305.2M453.31,268.7V284.1M454.05,269.9V283.9M454.46,270.3V293.0M454.96,270.0V295.5M455.50,273.1V319.5M455.80,273.1V314.4M456.18,272.6V333.7M456.61,273.2V297.7M456.98,273.0V335.6M457.39,273.2V306.8M458.09,273.8V335.5M458.54,274.4V314.8M458.87,274.5V299.1M459.35,275.4V308.9M459.80,275.2V315.0M460.28,275.1V315.7M461.10,276.4V325.4M461.62,276.3V290.5M462.50,279.7V311.9M462.88,280.1V304.4M463.22,280.5V299.6M463.76,280.3V299.4M464.15,280.0V303.1M464.55,280.1V306.7M464.96,281.1V304.8M465.37,280.5V321.0M465.76,280.9V320.1M466.14,281.1V304.3M466.73,281.0V301.5M467.04,282.1V329.5M467.50,281.7V305.2M467.88,282.1V304.7M468.11,282.3V313.9M468.43,282.8V337.0M468.78,281.8V333.5M469.19,282.5V313.7M469.70,283.1V353.4M470.06,283.3V317.7M470.52,283.1V312.6M471.15,283.0V308.2M471.47,283.3V311.7M471.92,284.1V298.0M472.68,283.4V319.8M473.23,284.3V311.1M473.59,284.3V312.0M475.00,286.6V329.5M475.52,287.3V331.4M476.01,286.4V349.4M476.32,286.7V338.2M476.63,287.2V333.7M477.01,287.2V322.5M477.32,287.6V321.4M477.86,288.2V322.0M478.17,288.0V317.5M478.82,288.3V328.3M479.35,288.8V320.2M479.77,288.6V333.7M480.20,289.4V323.6M480.61,288.5V326.3M481.03,289.6V322.8M481.38,289.4V333.0M481.77,289.2V344.0M482.09,289.5V312.0M482.46,290.3V328.1M482.87,290.0V309.2M483.20,290.2V330.0M483.67,290.4V318.1M484.16,290.8V344.1M484.55,290.8V343.6M484.87,290.3V342.1M485.35,290.8V337.2M485.67,291.5V367.4M486.14,291.8V349.9M486.57,292.0V364.5M486.97,291.1V328.3M487.49,292.4V338.8M488.02,291.7V345.5M488.34,292.9V331.2M488.80,292.6V344.1M493.50,271.4V308.0M493.85,271.5V304.8M494.19,272.1V313.1M494.68,272.6V329.7M495.05,274.0V342.3M495.53,274.6V294.2M495.56,274.3V296.9M495.91,275.1V307.8M496.43,275.2V296.4M496.77,276.2V322.8M497.31,276.4V349.6M497.40,276.1V330.6M497.73,277.0V329.5M498.13,277.2V327.7M498.57,277.8V342.6M498.88,278.4V324.5M499.00,281.0V301.7M499.33,280.4V299.7M499.64,281.2V318.5M500.18,281.2V299.1M500.72,282.2V306.0M501.06,282.6V316.8M501.78,283.2V308.3M502.31,283.2V305.8M502.65,284.0V319.7M503.00,283.8V298.2M503.47,283.9V297.6M503.87,285.1V298.8M504.37,285.6V297.7M504.77,285.1V304.8M505.00,285.3V317.9M505.53,286.9V348.3M505.86,287.0V318.2M506.33,288.1V315.2M506.81,289.5V342.6M507.28,291.3V335.6M507.61,291.2V337.1M508.05,292.8V327.5M508.64,294.0V362.5M509.08,295.4V321.6M509.52,295.7V316.9M509.83,296.7V315.7M510.14,297.2V345.8M510.59,298.9V357.7M511.03,300.0V320.3M512.50,259.7V277.7M512.95,259.5V277.8M513.42,259.6V274.9M513.95,260.7V277.5M514.28,260.9V276.3M515.14,261.2V277.2M515.55,260.8V280.9M515.98,261.4V286.6M516.41,262.3V273.6M516.85,262.0V277.2M517.19,262.2V275.3M517.54,262.3V279.9M517.78,262.3V277.9M518.00,265.4V283.4M518.52,265.5V282.7M518.92,265.3V279.0M519.41,266.6V285.6M519.81,266.6V289.1M520.19,266.1V282.4M520.55,266.5V286.5M520.94,266.4V290.2M521.34,266.7V290.2M521.77,266.2V311.7M522.18,267.3V292.8M522.82,266.5V287.8M523.31,267.1V283.0M523.79,267.0V293.2M524.21,267.1V293.9M524.65,267.6V280.5M527.00,274.7V302.3M527.37,275.2V309.8M527.91,275.9V305.7M528.32,277.1V319.0M528.84,278.5V319.0M529.15,279.2V318.0M529.56,279.8V304.8M530.05,280.6V313.8M530.19,281.0V314.9M530.67,282.3V315.0M531.07,283.2V321.2M531.38,283.5V318.8M531.69,284.7V315.9M532.35,286.0V313.6M532.80,287.2V310.7M533.21,287.6V325.5M533.65,289.0V312.0M533.96,288.8V316.2M534.27,289.8V310.4M534.76,291.1V326.5M535.28,292.5V321.1M535.75,293.4V322.0M536.13,293.4V330.7M536.56,295.0V316.1M536.95,295.0V314.6M537.00,295.9V346.0M537.42,296.3V347.2M537.94,297.2V353.2M538.48,298.6V337.8M538.79,299.3V334.3M539.21,299.7V337.1M539.59,300.6V346.4M539.85,302.0V341.2M540.37,302.3V343.4M540.82,304.1V364.8M541.26,304.0V345.7M541.72,305.3V361.1M542.05,305.9V355.5M542.59,307.5V361.5M542.96,308.0V359.2M543.57,309.5V342.0M543.98,310.6V340.9M544.43,310.7V353.6M544.75,312.1V342.9M545.21,312.5V340.5M545.55,313.3V350.5M546.39,315.8V336.0M546.76,316.5V342.3M547.16,316.8V334.0M547.60,317.6V364.6M546.00,262.7V285.3M546.50,263.0V288.7M546.93,263.5V288.6M547.38,262.8V284.9M548.04,263.3V293.8M548.51,264.0V307.4M549.04,264.1V325.8M549.75,263.9V277.2M550.17,263.8V293.6M550.66,264.9V287.9M551.10,264.5V278.7M551.43,264.4V281.0M551.85,265.5V288.5M552.25,265.1V296.8M552.62,265.0V284.3M552.91,265.7V299.8M555.50,259.9V301.3M555.97,259.4V280.1M556.30,260.4V282.1M557.00,260.9V283.4M557.45,260.7V274.9M557.93,261.4V290.0M558.03,261.8V274.1M558.49,261.0V272.8M558.90,261.6V277.5M559.37,262.4V279.5M560.00,268.3V282.7M560.50,269.5V286.6M561.02,270.4V304.3M561.39,271.0V291.6M561.73,271.2V292.4M562.09,271.0V287.0M562.42,271.6V298.2M562.50,272.4V314.6M562.90,272.8V311.2M563.39,273.0V304.4M563.87,274.1V300.0M564.31,273.6V298.2M564.62,274.2V297.8M564.71,275.2V290.2M565.12,275.0V289.0M565.48,276.1V326.0M565.92,275.9V297.2M566.39,277.2V289.8M566.82,277.8V298.1M567.00,279.4V292.2M567.46,280.3V309.7M567.87,281.7V296.4M568.41,281.7V293.8M568.74,282.9V300.5M569.38,283.5V299.4M569.68,284.7V304.1M570.10,284.9V312.1M570.43,286.3V308.1M570.74,286.9V319.6M571.14,287.6V308.2M571.46,287.8V310.0M571.98,288.7V309.4M572.26,289.2V310.2M572.80,289.9V314.9M573.18,290.9V312.5M573.75,291.8V318.9M574.28,292.3V310.7M574.76,294.1V316.7M575.17,294.2V309.2M575.71,296.0V316.0M576.24,296.9V319.0M576.66,297.8V312.2M577.14,298.4V314.3M577.68,298.8V349.2M578.45,299.9V320.4M579.00,264.8V283.0M579.47,265.1V328.2M579.94,264.7V281.3M580.36,265.9V289.4M580.74,264.9V286.3M581.23,265.4V307.0M581.56,265.8V282.6M581.89,266.5V293.4M582.36,266.6V295.7M582.69,266.0V291.0M583.19,267.0V292.9M583.67,267.2V283.1M584.12,267.4V295.1M584.54,266.9V282.5M585.01,268.0V279.7M585.46,267.4V287.3M586.01,268.2V285.2M586.37,268.7V299.6M586.70,268.7V292.4M587.50,258.9V290.2M587.88,259.1V289.8M588.40,259.0V318.0M588.89,259.4V279.5M589.23,260.2V294.5M589.72,260.4V278.8M590.26,260.2V276.1M590.52,260.2V277.5M590.86,260.7V298.9M591.17,260.2V299.2M591.69,261.1V281.0M592.00,260.4V276.7M592.35,260.7V314.6M592.79,260.7V306.0M593.13,261.3V278.9M593.41,261.2V275.0M593.77,261.2V274.8M594.17,262.0V288.3M594.57,261.3V275.7M595.32,262.5V314.2M595.65,262.4V281.3M596.16,262.9V312.4M596.52,262.0V305.6M596.98,262.2V313.5M597.00,263.6V310.6M597.47,264.4V300.3M597.90,265.5V293.0M598.36,265.6V348.7M598.90,265.9V286.1M599.13,266.5V298.1M599.52,266.9V312.7M599.88,268.0V316.8M600.25,269.1V299.8M600.62,268.7V296.4M601.02,270.1V297.4M601.45,269.9V290.3M601.96,271.5V301.9M602.14,270.7V292.8M602.48,272.3V293.0M602.81,272.6V307.9M603.14,273.3V308.2M603.61,273.5V290.2M603.92,273.6V297.2M604.42,275.3V308.0M604.97,275.7V309.9M605.80,259.5V278.8M606.30,259.4V314.9M606.77,259.7V289.5M607.14,259.5V280.6M607.50,260.6V313.6M607.97,260.3V281.2M608.35,260.1V320.8M608.66,260.9V312.0M609.11,260.7V285.4M609.47,261.2V275.2M609.91,260.6V282.0M610.46,260.9V282.0M610.89,261.8V278.3M611.35,261.3V279.4M611.87,261.1V274.6M612.25,261.6V276.8M612.80,261.9V281.0M613.28,262.0V280.1M613.60,262.5V272.6M613.95,262.7V275.3M614.46,262.4V289.2M615.00,263.1V270.4M615.00,262.8V286.7M615.31,263.3V284.2M615.81,263.1V300.7M616.31,263.0V296.5M616.69,263.5V287.5M616.85,263.5V298.9M617.21,264.1V291.3M617.64,264.4V322.9M618.14,264.1V310.3M618.51,264.7V291.4M618.97,265.3V282.6M619.35,265.4V279.3M619.71,265.1V304.9M620.20,265.4V283.1M620.43,266.0V294.1M620.92,266.2V284.6M621.33,265.9V317.5M621.77,266.9V298.7M622.16,267.5V290.1M622.63,267.0V289.8M623.44,267.7V289.4M623.78,268.4V330.5M624.09,267.7V320.9M624.40,267.7V292.1M624.68,268.5V283.8M625.80,260.4V287.7M626.14,260.7V289.8M626.50,260.8V277.1M626.87,260.8V279.8M627.37,261.8V275.6M627.74,261.9V279.2M628.19,262.1V290.0M628.62,261.8V276.0M629.51,261.7V280.1M630.02,262.7V277.5M630.35,262.8V275.1M630.88,262.4V277.3M631.19,262.9V278.6M631.69,263.4V278.6M631.72,263.2V282.9M632.23,263.7V282.3M632.57,263.9V285.7M632.88,264.1V288.6M633.00,265.1V281.0M633.49,266.1V281.2M633.95,266.8V279.8M634.49,267.1V279.7M634.81,267.2V287.6M635.19,267.8V292.8M635.68,267.4V289.4M636.01,268.3V295.3M636.50,269.1V302.9M636.94,269.6V326.7M637.68,270.2V287.6M638.21,270.7V283.5M638.68,270.7V285.7M639.08,271.3V287.9M639.56,271.2V295.1M639.88,271.8V284.9M640.40,272.1V284.6M640.85,273.0V314.9M641.00,272.1V289.6M641.33,273.3V295.9M641.65,273.7V315.0M642.09,274.0V329.2M642.43,274.8V303.9M642.96,275.2V293.5M643.30,275.9V309.8M643.72,275.9V308.8M644.03,276.7V301.8M644.34,276.2V301.3M644.36,276.9V315.8M644.79,276.5V335.9M645.30,277.9V306.8M645.64,278.6V302.3M645.90,278.2V327.1M646.34,278.8V303.6M646.85,279.9V300.0M647.32,279.9V303.9M647.79,280.4V330.4M648.32,281.6V303.8M648.69,281.6V319.6M649.02,282.1V356.1M649.78,282.4V339.5M650.09,283.6V310.4M650.56,284.0V313.5M650.87,284.3V356.3M651.30,284.6V356.0M651.76,285.8V333.2M652.30,265.1V283.7M652.79,265.1V283.1M653.27,265.0V277.0M653.78,265.5V275.1M654.20,266.4V288.1M654.57,265.9V297.1M654.90,266.5V283.0M655.42,267.1V282.2M655.75,267.4V312.3M656.13,267.2V286.6M656.50,268.0V290.3M657.05,268.8V298.5M657.43,268.5V291.4" stroke="#000" stroke-width="0.7" fill="none"/>
<path d="M431.3,257.3V399.4M428.7,257.3V296M604.3,275V370.8M546.5,300V366M489,292V363M511.5,300V367" stroke="#111" stroke-width="0.6" fill="none"/>
<path d="M428.7,257.3H606M605.7,258.2H652M455.3,269.7H493.4M458.8,275H464.1M465.9,279.5H473.9M475.6,284.8H488.1M518,261.8H548M524.2,273.3H528.6M528.6,276.8H546.3M558.8,263H579.1M558.8,266.2H564M555,258.7H587M598.7,279.5H603M607.5,261.8H625.2M629.6,262.6H652.7M493.4,277.7H497" stroke="#1a1a1a" stroke-width="0.75" fill="none"/>
<path d="M493.4,269.7V272M548,261.8V276.8M546.3,276.8V280M579.1,263V265M625.2,261.8V264M652.7,262.6V265M464.1,275V280M473.9,279.5V286M488.1,284.8V292" stroke="#1a1a1a" stroke-width="0.75" fill="none"/>
<rect x="429.4" y="410.6" width="1.4" height="34.7" fill="#d06a6a" stroke="none" stroke-width="1"/>
<rect x="430.6" y="410.6" width="1.1" height="34.7" fill="#e07070" stroke="none" stroke-width="1"/>
<rect x="431.5" y="410.6" width="3.3" height="34.7" fill="#a8c2a8" stroke="none" stroke-width="1"/>
<rect x="434.6" y="410.6" width="1.5" height="34.7" fill="#3ed040" stroke="none" stroke-width="1"/>
<rect x="435.9" y="410.6" width="4.2" height="34.7" fill="#3ee84a" stroke="none" stroke-width="1"/>
<rect x="439.9" y="410.6" width="1.5" height="34.7" fill="#78c878" stroke="none" stroke-width="1"/>
<rect x="441.2" y="410.6" width="1.5" height="34.7" fill="#3ee84a" stroke="none" stroke-width="1"/>
<rect x="442.5" y="410.6" width="2.3" height="34.7" fill="#40d850" stroke="none" stroke-width="1"/>
<rect x="444.6" y="410.6" width="3.0" height="34.7" fill="#10f030" stroke="none" stroke-width="1"/>
<rect x="447.4" y="410.6" width="3.8" height="34.7" fill="#44e07c" stroke="none" stroke-width="1"/>
<rect x="451" y="410.6" width="4.0" height="34.7" fill="#50e0a0" stroke="none" stroke-width="1"/>
<rect x="454.8" y="410.6" width="38.4" height="34.7" fill="#40e0d0" stroke="none" stroke-width="1"/>
<rect x="493" y="410.6" width="18.9" height="34.7" fill="#00ff00" stroke="none" stroke-width="1"/>
<rect x="511.7" y="410.6" width="2.0" height="34.7" fill="#4848e8" stroke="none" stroke-width="1"/>
<rect x="513.5" y="410.6" width="2.3" height="34.7" fill="#2a2aff" stroke="none" stroke-width="1"/>
<rect x="515.6" y="410.6" width="1.2" height="34.7" fill="#8080ff" stroke="none" stroke-width="1"/>
<rect x="516.6" y="410.6" width="31.5" height="34.7" fill="#0000ff" stroke="none" stroke-width="1"/>
<rect x="547.9" y="410.6" width="1.1" height="34.7" fill="#8888ff" stroke="none" stroke-width="1"/>
<rect x="548.8" y="410.6" width="5.4" height="34.7" fill="#2424ff" stroke="none" stroke-width="1"/>
<rect x="554" y="410.6" width="2.8" height="34.7" fill="#b08080" stroke="none" stroke-width="1"/>
<rect x="556.6" y="410.6" width="1.1" height="34.7" fill="#a83030" stroke="none" stroke-width="1"/>
<rect x="557.5" y="410.6" width="1.1" height="34.7" fill="#c06060" stroke="none" stroke-width="1"/>
<rect x="558.4" y="410.6" width="5.8" height="34.7" fill="#a52a2a" stroke="none" stroke-width="1"/>
<rect x="564" y="410.6" width="1.2" height="34.7" fill="#b03838" stroke="none" stroke-width="1"/>
<rect x="565" y="410.6" width="14.6" height="34.7" fill="#a52a2a" stroke="none" stroke-width="1"/>
<rect x="579.4" y="410.6" width="2.0" height="34.7" fill="#c06868" stroke="none" stroke-width="1"/>
<rect x="581.2" y="410.6" width="6.3" height="34.7" fill="#a52a2a" stroke="none" stroke-width="1"/>
<rect x="587.3" y="410.6" width="2.3" height="34.7" fill="#e85050" stroke="none" stroke-width="1"/>
<rect x="589.4" y="410.6" width="3.0" height="34.7" fill="#ff0000" stroke="none" stroke-width="1"/>
<rect x="592.2" y="410.6" width="1.2" height="34.7" fill="#ff2a2a" stroke="none" stroke-width="1"/>
<rect x="593.2" y="410.6" width="12.7" height="34.7" fill="#ff0000" stroke="none" stroke-width="1"/>
<rect x="605.7" y="410.6" width="3.7" height="34.7" fill="#333333" stroke="none" stroke-width="1"/>
<rect x="609.2" y="410.6" width="2.8" height="34.7" fill="#000000" stroke="none" stroke-width="1"/>
<rect x="611.8" y="410.6" width="2.9" height="34.7" fill="#222222" stroke="none" stroke-width="1"/>
<rect x="614.5" y="410.6" width="10.7" height="34.7" fill="#000000" stroke="none" stroke-width="1"/>
<rect x="625" y="410.6" width="2.8" height="34.7" fill="#d8d860" stroke="none" stroke-width="1"/>
<rect x="627.6" y="410.6" width="24.7" height="34.7" fill="#ffff00" stroke="none" stroke-width="1"/>
<rect x="652.1" y="410.6" width="5.1" height="34.7" fill="#f0f040" stroke="none" stroke-width="1"/>
<rect x="429.4" y="410.6" width="227.6" height="34.7" fill="none" stroke="#8a8a8a" stroke-width="0.6"/>
<text x="426.5" y="429.6" font-family='"Liberation Serif", serif' font-size="4.6" font-weight="normal" text-anchor="end" fill="#222">Module colors</text>
<text x="207.1" y="465.2" font-family='"Liberation Serif", serif' font-size="4.6" font-weight="bold" text-anchor="middle" fill="#000">Module-trait relationships</text>
<rect x="137.3" y="470.2" width="7.9" height="28.67" fill="#000000" stroke="none" stroke-width="1"/>
<rect x="145.2" y="470.2" width="111.1" height="28.67" fill="#fdebe6" stroke="none" stroke-width="1"/>
<text x="136.4" y="487.08" font-family='"Liberation Serif", serif' font-size="5.8" font-weight="bold" text-anchor="end" fill="#111">MEblack</text>
<text x="200.7" y="483.58" font-family='"Liberation Serif", serif' font-size="4.3" font-weight="normal" text-anchor="middle" fill="#222">0.081</text>
<text x="200.7" y="488.78" font-family='"Liberation Serif", serif' font-size="4.3" font-weight="normal" text-anchor="middle" fill="#222">(0.7)</text>
<rect x="137.3" y="498.57" width="7.9" height="28.67" fill="#ffff00" stroke="none" stroke-width="1"/>
<rect x="145.2" y="498.57" width="111.1" height="28.67" fill="#fcdbd2" stroke="none" stroke-width="1"/>
<text x="136.4" y="515.46" font-family='"Liberation Serif", serif' font-size="5.8" font-weight="bold" text-anchor="end" fill="#111">MEyellow</text>
<text x="200.7" y="511.95" font-family='"Liberation Serif", serif' font-size="4.3" font-weight="normal" text-anchor="middle" fill="#222">0.19</text>
<text x="200.7" y="517.15" font-family='"Liberation Serif", serif' font-size="4.3" font-weight="normal" text-anchor="middle" fill="#222">(0.4)</text>
<rect x="137.3" y="526.94" width="7.9" height="28.67" fill="#a52a2a" stroke="none" stroke-width="1"/>
<rect x="145.2" y="526.94" width="111.1" height="28.67" fill="#f9ae9b" stroke="none" stroke-width="1"/>
<text x="136.4" y="543.82" font-family='"Liberation Serif", serif' font-size="5.8" font-weight="bold" text-anchor="end" fill="#111">MEbrown</text>
<text x="200.7" y="540.32" font-family='"Liberation Serif", serif' font-size="4.3" font-weight="normal" text-anchor="middle" fill="#222">0.39</text>
<text x="200.7" y="545.52" font-family='"Liberation Serif", serif' font-size="4.3" font-weight="normal" text-anchor="middle" fill="#222">(0.09)</text>
<rect x="137.3" y="555.31" width="7.9" height="28.67" fill="#ff0000" stroke="none" stroke-width="1"/>
<rect x="145.2" y="555.31" width="111.1" height="28.67" fill="#fcd5cb" stroke="none" stroke-width="1"/>
<text x="136.4" y="572.19" font-family='"Liberation Serif", serif' font-size="5.8" font-weight="bold" text-anchor="end" fill="#111">MEred</text>
<text x="200.7" y="568.69" font-family='"Liberation Serif", serif' font-size="4.3" font-weight="normal" text-anchor="middle" fill="#222">0.23</text>
<text x="200.7" y="573.89" font-family='"Liberation Serif", serif' font-size="4.3" font-weight="normal" text-anchor="middle" fill="#222">(0.3)</text>
<rect x="137.3" y="583.68" width="7.9" height="28.67" fill="#0000ff" stroke="none" stroke-width="1"/>
<rect x="145.2" y="583.68" width="111.1" height="28.67" fill="#a0cdf8" stroke="none" stroke-width="1"/>
<text x="136.4" y="600.56" font-family='"Liberation Serif", serif' font-size="5.8" font-weight="bold" text-anchor="end" fill="#111">MEblue</text>
<text x="200.7" y="597.06" font-family='"Liberation Serif", serif' font-size="4.3" font-weight="normal" text-anchor="middle" fill="#222">-0.42</text>
<text x="200.7" y="602.26" font-family='"Liberation Serif", serif' font-size="4.3" font-weight="normal" text-anchor="middle" fill="#222">(0.07)</text>
<rect x="137.3" y="612.05" width="7.9" height="28.67" fill="#00ff00" stroke="none" stroke-width="1"/>
<rect x="145.2" y="612.05" width="111.1" height="28.67" fill="#3898ef" stroke="none" stroke-width="1"/>
<text x="136.4" y="628.93" font-family='"Liberation Serif", serif' font-size="5.8" font-weight="bold" text-anchor="end" fill="#111">MEgreen</text>
<text x="200.7" y="625.43" font-family='"Liberation Serif", serif' font-size="4.3" font-weight="normal" text-anchor="middle" fill="#222">-0.82</text>
<text x="200.7" y="630.63" font-family='"Liberation Serif", serif' font-size="4.3" font-weight="normal" text-anchor="middle" fill="#222">(1e-05)</text>
<rect x="137.3" y="640.42" width="7.9" height="28.67" fill="#40e0d0" stroke="none" stroke-width="1"/>
<rect x="145.2" y="640.42" width="111.1" height="28.67" fill="#4a9ff1" stroke="none" stroke-width="1"/>
<text x="136.4" y="657.3" font-family='"Liberation Serif", serif' font-size="5.8" font-weight="bold" text-anchor="end" fill="#111">MEturquoise</text>
<text x="200.7" y="653.8" font-family='"Liberation Serif", serif' font-size="4.3" font-weight="normal" text-anchor="middle" fill="#222">-0.68</text>
<text x="200.7" y="659.0" font-family='"Liberation Serif", serif' font-size="4.3" font-weight="normal" text-anchor="middle" fill="#222">(9e-04)</text>
<rect x="145.2" y="470.2" width="111.1" height="198.6" fill="none" stroke="#9a9a9a" stroke-width="0.6"/>
<defs><linearGradient id="lg" x1="0" y1="0" x2="0" y2="1"><stop offset="0" stop-color="#ec3c12"/><stop offset="0.25" stop-color="#f5a58e"/><stop offset="0.5" stop-color="#ffffff"/><stop offset="0.75" stop-color="#8cc3f5"/><stop offset="1" stop-color="#1a7fe9"/></linearGradient></defs>
<rect x="258.9" y="522.8" width="2.8" height="93" fill="url(#lg)" stroke="none" stroke-width="0"/>
<line x1="261.7" y1="522.8" x2="263" y2="522.8" stroke="#444" stroke-width="0.5"/>
<text x="268.3" y="522.8" font-family='"Liberation Serif", serif' font-size="4.6" font-weight="normal" text-anchor="middle" fill="#222" transform="rotate(-90 268.3 522.8)">1</text>
<line x1="261.7" y1="546.4" x2="263" y2="546.4" stroke="#444" stroke-width="0.5"/>
<text x="268.3" y="546.4" font-family='"Liberation Serif", serif' font-size="4.6" font-weight="normal" text-anchor="middle" fill="#222" transform="rotate(-90 268.3 546.4)">0.5</text>
<line x1="261.7" y1="569.5" x2="263" y2="569.5" stroke="#444" stroke-width="0.5"/>
<text x="268.3" y="569.5" font-family='"Liberation Serif", serif' font-size="4.6" font-weight="normal" text-anchor="middle" fill="#222" transform="rotate(-90 268.3 569.5)">0</text>
<line x1="261.7" y1="592.7" x2="263" y2="592.7" stroke="#444" stroke-width="0.5"/>
<text x="268.3" y="592.7" font-family='"Liberation Serif", serif' font-size="4.6" font-weight="normal" text-anchor="middle" fill="#222" transform="rotate(-90 268.3 592.7)">-0.5</text>
<line x1="261.7" y1="615.8" x2="263" y2="615.8" stroke="#444" stroke-width="0.5"/>
<text x="268.3" y="615.8" font-family='"Liberation Serif", serif' font-size="4.6" font-weight="normal" text-anchor="middle" fill="#222" transform="rotate(-90 268.3 615.8)">-1</text>
<text x="201" y="674.3" font-family='"Liberation Serif", serif' font-size="5.7" font-weight="bold" text-anchor="middle" fill="#111">ssGSEA_score</text>
<circle cx="507" cy="580" r="78.6" fill="#f9d1ae"/>
<circle cx="586.4" cy="580" r="78.4" fill="#c8b7ee"/>
<clipPath id="cl"><circle cx="507" cy="580" r="78.6"/></clipPath>
<circle cx="586.4" cy="580" r="78.4" fill="#c4a0c6" clip-path="url(#cl)"/>
<text x="503.1" y="495.6" font-family='"Liberation Serif", serif' font-size="10.5" font-weight="normal" text-anchor="middle" fill="#111">DEGs</text>
<text x="590.7" y="495.6" font-family='"Liberation Serif", serif' font-size="10.5" font-weight="normal" text-anchor="middle" fill="#111">Module_gene</text>
<text x="468.4" y="576" font-family='"Liberation Serif", serif' font-size="10.5" font-weight="normal" text-anchor="middle" fill="#111">69.2%</text>
<text x="468.4" y="591.2" font-family='"Liberation Serif", serif' font-size="10.5" font-weight="normal" text-anchor="middle" fill="#111">(5774)</text>
<text x="546.8" y="576" font-family='"Liberation Serif", serif' font-size="10.5" font-weight="normal" text-anchor="middle" fill="#111">8.37%</text>
<text x="546.8" y="591.2" font-family='"Liberation Serif", serif' font-size="10.5" font-weight="normal" text-anchor="middle" fill="#111">(698)</text>
<text x="625.2" y="576" font-family='"Liberation Serif", serif' font-size="10.5" font-weight="normal" text-anchor="middle" fill="#111">22.4%</text>
<text x="625.2" y="591.2" font-family='"Liberation Serif", serif' font-size="10.5" font-weight="normal" text-anchor="middle" fill="#111">(1872)</text>
</svg>
</body></html>
